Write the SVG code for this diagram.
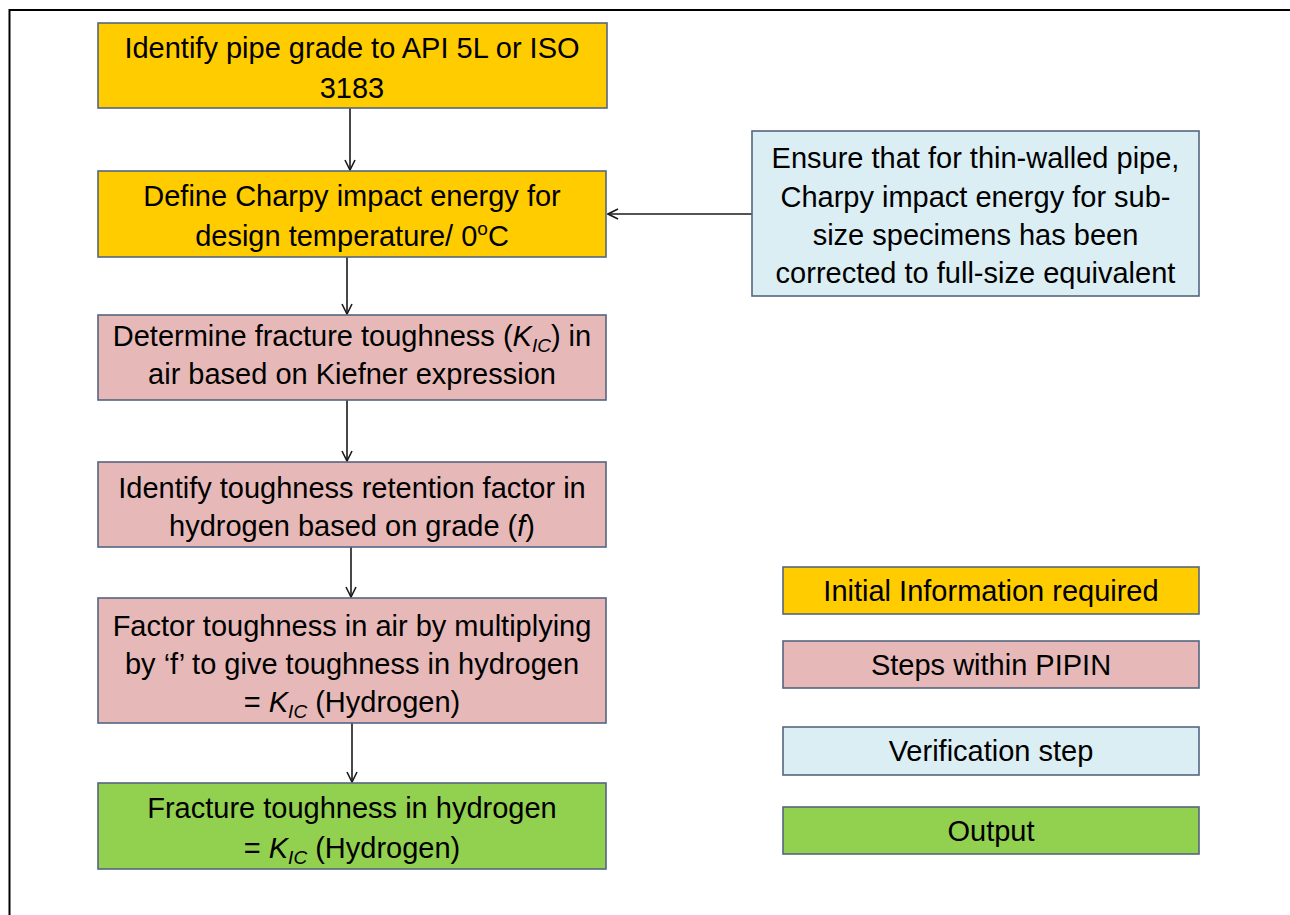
<svg xmlns="http://www.w3.org/2000/svg" width="1290" height="915" viewBox="0 0 1290 915">
<style>
.box{stroke:#56657f;stroke-width:1.6}
.y{fill:#ffcc00}.p{fill:#e6b9b8}.b{fill:#dbeef4}.g{fill:#92d050}
text{font-family:"Liberation Sans",Arial,sans-serif;font-size:29px;fill:#000;text-anchor:middle}
.i{font-style:italic}
.sub{font-style:italic;font-size:19px}
.con{stroke:#1a1a1a;stroke-width:1.6;fill:none;marker-end:url(#ah)}
</style>
<defs>
<marker id="ah" viewBox="0 0 12 12" refX="11" refY="6" markerWidth="12" markerHeight="12" markerUnits="userSpaceOnUse" orient="auto">
<path d="M1,1 L11,6 L1,11" fill="none" stroke="#1a1a1a" stroke-width="1.6"/>
</marker>
</defs>
<rect width="1290" height="915" fill="#fff"/>
<path d="M9.5,915 V10 H1290" fill="none" stroke="#000" stroke-width="2"/>
<g id="connectors">
<path class="con" d="M350,108 V170"/>
<path class="con" d="M347,257 V314"/>
<path class="con" d="M347,400 V461"/>
<path class="con" d="M351,547 V597"/>
<path class="con" d="M352,723 V782"/>
<path class="con" d="M752,214 H608"/>
</g>
<g id="n1"><rect class="box y" x="98" y="23" width="509" height="85"/>
<text x="352" y="58">Identify pipe grade to API 5L or ISO</text>
<text x="352" y="98">3183</text></g>
<g id="n2"><rect class="box y" x="98" y="171" width="508" height="86"/>
<text x="352" y="206">Define Charpy impact energy for</text>
<text x="352" y="246">design temperature/ 0<tspan font-size="19" dy="-11">o</tspan><tspan dy="11">C</tspan></text></g>
<g id="n3"><rect class="box p" x="98" y="315" width="508" height="85"/>
<text x="352" y="346">Determine fracture toughness (<tspan class="i">K</tspan><tspan class="sub" dy="6">IC</tspan><tspan dy="-6">) in</tspan></text>
<text x="352" y="384">air based on Kiefner expression</text></g>
<g id="n4"><rect class="box p" x="98" y="462" width="508" height="85"/>
<text x="352" y="498">Identify toughness retention factor in</text>
<text x="352" y="536">hydrogen based on grade (<tspan class="i">f</tspan>)</text></g>
<g id="n5"><rect class="box p" x="98" y="598" width="508" height="125"/>
<text x="352" y="636">Factor toughness in air by multiplying</text>
<text x="352" y="674">by ‘f’ to give toughness in hydrogen</text>
<text x="352" y="712">= <tspan class="i">K</tspan><tspan class="sub" dy="6">IC</tspan><tspan dy="-6"> (Hydrogen)</tspan></text></g>
<g id="n6"><rect class="box g" x="98" y="783" width="508" height="86"/>
<text x="352" y="818">Fracture toughness in hydrogen</text>
<text x="352" y="858">= <tspan class="i">K</tspan><tspan class="sub" dy="6">IC</tspan><tspan dy="-6"> (Hydrogen)</tspan></text></g>
<g id="n7"><rect class="box b" x="752" y="131" width="447" height="165"/>
<text x="975.5" y="168">Ensure that for thin-walled pipe,</text>
<text x="975.5" y="207">Charpy impact energy for sub-</text>
<text x="975.5" y="245">size specimens has been</text>
<text x="975.5" y="283">corrected to full-size equivalent</text></g>
<g id="legend-initial"><rect class="box y" x="783" y="567" width="416" height="47"/>
<text x="991" y="601">Initial Information required</text></g>
<g id="legend-steps"><rect class="box p" x="783" y="641" width="416" height="47"/>
<text x="991" y="675">Steps within PIPIN</text></g>
<g id="legend-verification"><rect class="box b" x="783" y="727" width="416" height="48"/>
<text x="991" y="761">Verification step</text></g>
<g id="legend-output"><rect class="box g" x="783" y="807" width="416" height="47"/>
<text x="991" y="841">Output</text></g>
</svg>
